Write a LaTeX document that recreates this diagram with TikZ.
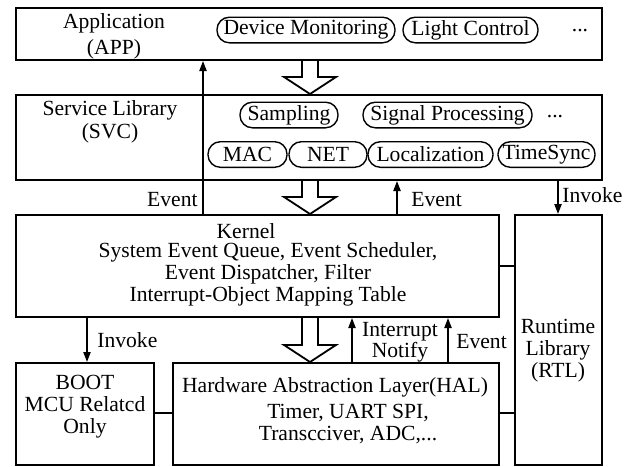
\documentclass[tikz,border=0pt]{standalone}
\usepackage{fontspec}
\setmainfont{Liberation Serif}
\usetikzlibrary{arrows.meta,fit,calc}

\tikzset{
  box/.style={draw, line width=1pt, inner sep=0pt, fill=none},
  pill/.style={draw, line width=0.7pt, rounded corners=6.2pt, inner sep=0pt,
               minimum height=12.8pt},
  txt/.style={inner sep=0pt, align=center},
  arr/.style={line width=0.8pt, -{Triangle[length=5pt,width=3.6pt]}},
  link/.style={line width=0.8pt},
  hollow/.style={line width=0.9pt, line join=miter},
}

% hollow layer arrow: shaft from #1 down to the tip on #2, along the column ca
\newcommand\layerarrow[2]{%
  \draw[hollow] ($(#1 -| ca)+(-8,0)$) -- ($(#2 -| ca)+(-8,-17)$)
    -- ($(#2 -| ca)+(-26,-17)$) -- (#2 -| ca)
    -- ($(#2 -| ca)+(26,-17)$) -- ($(#2 -| ca)+(8,-17)$)
    -- ($(#1 -| ca)+(8,0)$);}

\begin{document}
\begin{tikzpicture}[x=0.5pt,y=-0.5pt,font=\fontsize{10.8}{11}\selectfont]
\useasboundingbox (0,0) rectangle (635,466);

% layer boxes
\node[box, fit={(16,8) (602,60)}] (app) {};
\node[box, fit={(16,95) (602,180)}] (svc) {};
\node[box, fit={(16,215) (499,317)}] (kernel) {};
\node[box, fit={(515,215) (602,465)}] (rtl) {};
\node[box, fit={(16,363) (154,465)}] (boot) {};
\node[box, fit={(173,363) (499,465)}] (hal) {};

% layer titles
\node[txt, font=\fontsize{10.8}{13}\selectfont] (apptitle) at (114,36) {Application\\(APP)};
\node[txt, font=\fontsize{10.8}{11.8}\selectfont] (svctitle) at (110,122) {Service Library\\(SVC)};
\node[txt] (kerneltitle) at (246,231) {Kernel};
\node[txt] (kernelbody) at (268,274) {System Event Queue, Event Scheduler,\\Event Dispatcher, Filter\\Interrupt-Object Mapping Table};
\node[txt] (boottext) at (85,406.5) {BOOT\\MCU Relatcd\\Only};
\node[txt] (haltitle) at (335,387) {Hardware Abstraction Layer(HAL)};
\node[txt] (halbody) at (348,424) {Timer, UART SPI,\\Transcciver, ADC,...};
\node[txt] (rtltext) at (558,351) {Runtime\\Library\\(RTL)};

% applications
\node[pill, minimum width=89pt] (devmon) at (306,30) {Device Monitoring};
\node[pill, minimum width=67.5pt] (light) at (470.5,30) {Light Control};
\node[txt] (appmore) at (580,31) {...};

% services
\node[pill, minimum width=49pt] (sampling) at (289,115) {Sampling};
\node[pill, minimum width=84.5pt] (sigproc) at (447.5,115) {Signal Processing};
\node[txt] (svcmore) at (555,117) {...};
\node[pill, minimum width=39.5pt] (mac) at (247.5,154.5) {MAC};
\node[pill, minimum width=39pt] (net) at (328,154.5) {NET};
\node[pill, minimum width=62.5pt] (loc) at (430.5,154.5) {Localization};
\node[pill, minimum width=48.5pt] (tsync) at (546.5,154.5) {TimeSync};

% columns and rows used by the connectors
\coordinate (ca) at (310,0);
\coordinate (cevl) at (203,0);
\coordinate (cevr) at (397,0);
\coordinate (cinv) at (558,0);
\coordinate (cboot) at (87,0);
\coordinate (cint) at (352,0);
\coordinate (cevb) at (448,0);
\coordinate (rk) at (0,266);
\coordinate (rh) at (0,413);

% layer arrows
\layerarrow{app.south}{svc.north}
\layerarrow{svc.south}{kernel.north}
\layerarrow{kernel.south}{hal.north}

% event / invoke connectors
\draw[arr] (kernel.north -| cevl) -- (app.south -| cevl);
\draw[arr] (kernel.north -| cevr) -- (svc.south -| cevr);
\draw[arr] (svc.south -| cinv) -- (rtl.north -| cinv);
\draw[arr] (kernel.south -| cboot) -- (boot.north -| cboot);
\draw[arr] (hal.north -| cint) -- (kernel.south -| cint);
\draw[arr] (hal.north -| cevb) -- (kernel.south -| cevb);

\draw[link] (kernel.east |- rk) -- (rtl.west |- rk);
\draw[link] (hal.east |- rh) -- (rtl.west |- rh);
\draw[link] (boot.east |- rh) -- (hal.west |- rh);

% connector labels
\node[txt, anchor=east] (levl) at (198,200) {Event};
\node[txt, anchor=west] (levr) at (411,200) {Event};
\node[txt, anchor=west] (linv) at (562,195) {Invoke};
\node[txt, anchor=west] (lboot) at (97,340) {Invoke};
\node[txt, font=\fontsize{10.8}{10.5}\selectfont] (lint) at (400,342) {Interrupt\\Notify};
\node[txt, anchor=west] (levb) at (456,342) {Event};
\end{tikzpicture}
\end{document}
